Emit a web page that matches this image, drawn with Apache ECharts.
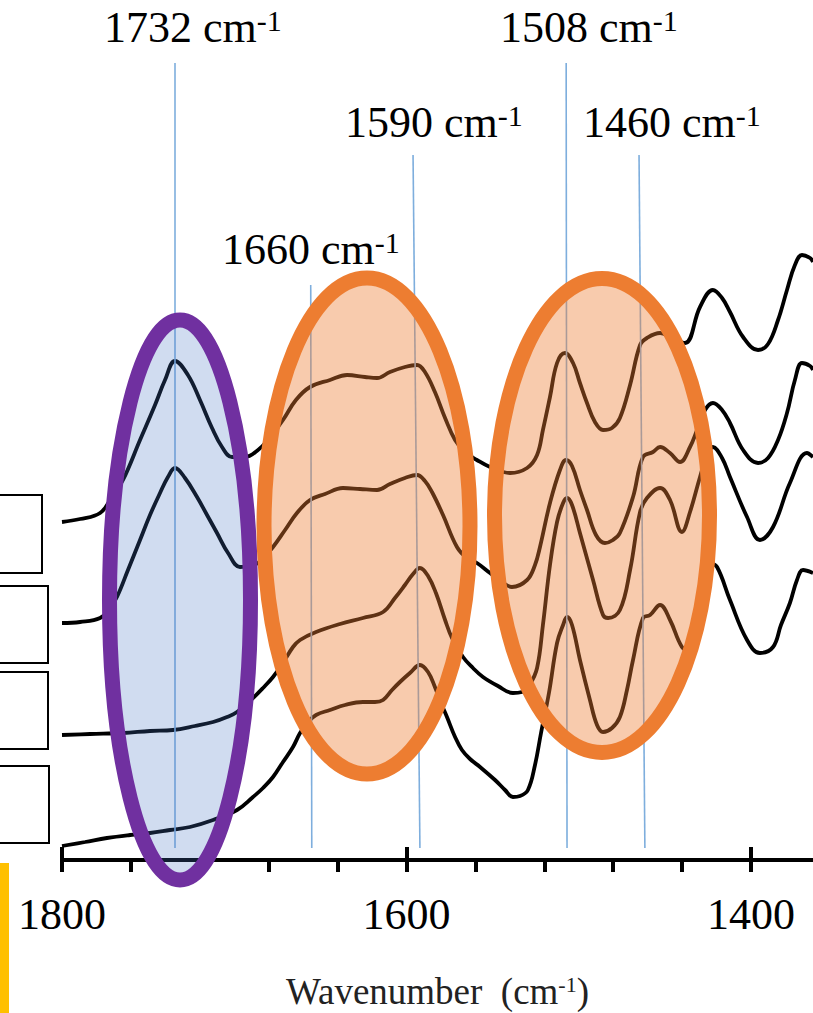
<!DOCTYPE html>
<html>
<head>
<meta charset="utf-8">
<title>FTIR spectra 1800-1364 cm-1</title>
<script src="https://cdn.jsdelivr.net/npm/echarts@6/dist/echarts.min.js"></script>
<style>
    html, body { margin: 0; padding: 0; background: #fff; }
    #ftir_spectra { width: 813px; height: 1013px; }
</style>
</head>
<body>
<div id="ftir_spectra"></div>
<script>

// Spectra: [wavenumber (cm-1), stacked absorbance (a.u.)]
var spectrumTop = [
    [1800, 3.38], [1789.5, 3.41], [1777.9, 3.47], [1771.0, 3.63], [1764.6, 3.80], [1754.7, 4.20],
    [1746.0, 4.55], [1740.2, 4.80], [1734.4, 4.99], [1726.9, 4.85], [1719.9, 4.60], [1712.9, 4.32],
    [1707.1, 4.13], [1701.3, 4.03], [1693.8, 4.03], [1686.2, 4.10], [1680.4, 4.20], [1671.7, 4.40],
    [1664.2, 4.60], [1656.0, 4.73], [1644.4, 4.80], [1634.5, 4.85], [1624.1, 4.83], [1617.1, 4.82],
    [1609.6, 4.88], [1600.9, 4.93], [1593.9, 4.95], [1589.3, 4.88], [1583.5, 4.68], [1577.6, 4.42],
    [1571.8, 4.20], [1566.0, 4.08], [1559.1, 4.00], [1551.5, 3.93], [1539.9, 3.87], [1530.0, 3.92],
    [1524.2, 4.05], [1520.8, 4.30], [1516.7, 4.63], [1512.6, 4.97], [1508.0, 5.07], [1503.3, 4.97],
    [1499.3, 4.77], [1495.2, 4.57], [1490.6, 4.38], [1485.9, 4.30], [1480.7, 4.32], [1476.1, 4.42],
    [1470.2, 4.75], [1464.4, 5.15], [1460.4, 5.22], [1452.8, 5.27], [1445.9, 5.22], [1438.3, 5.17],
    [1429.6, 5.53], [1422.1, 5.70], [1416.8, 5.62], [1412.2, 5.48], [1404.6, 5.23], [1395.9, 5.10],
    [1390.1, 5.16], [1384.3, 5.40], [1379.1, 5.70], [1374.5, 5.95], [1370.4, 6.05], [1365.7, 6.02],
    [1364.0, 5.98]
];

var spectrumUpper = [
    [1800, 2.37], [1789.5, 2.38], [1777.9, 2.42], [1772.1, 2.52], [1768.1, 2.63], [1761.7, 2.90],
    [1754.7, 3.20], [1748.9, 3.45], [1743.1, 3.67], [1738.5, 3.83], [1734.4, 3.92], [1728.6, 3.82],
    [1721.6, 3.63], [1715.8, 3.45], [1710.0, 3.27], [1703.6, 3.07], [1696.7, 2.93], [1690.9, 2.94],
    [1686.2, 2.97], [1681.6, 3.05], [1677.5, 3.13], [1670.5, 3.30], [1663.6, 3.47], [1656.0, 3.60],
    [1647.3, 3.66], [1636.9, 3.72], [1627.0, 3.71], [1617.1, 3.70], [1609.6, 3.76], [1600.9, 3.82],
    [1593.9, 3.85], [1589.3, 3.79], [1585.2, 3.68], [1578.8, 3.45], [1570.7, 3.13], [1564.9, 3.02],
    [1559.1, 2.97], [1551.5, 2.87], [1544.6, 2.78], [1538.8, 2.73], [1530.0, 2.80], [1525.4, 2.95],
    [1522.5, 3.13], [1516.7, 3.57], [1510.9, 3.90], [1507.4, 4.00], [1503.9, 3.94], [1499.3, 3.70],
    [1495.2, 3.50], [1490.0, 3.25], [1484.8, 3.17], [1480.1, 3.20], [1476.1, 3.27], [1468.5, 3.63],
    [1462.7, 4.03], [1456.9, 4.08], [1452.8, 4.13], [1447.0, 4.07], [1441.2, 3.98], [1435.4, 4.13],
    [1431.3, 4.30], [1426.7, 4.50], [1422.1, 4.57], [1416.8, 4.50], [1412.2, 4.37], [1404.6, 4.10],
    [1395.9, 3.97], [1390.1, 4.02], [1384.3, 4.20], [1379.1, 4.47], [1374.5, 4.80], [1370.4, 4.97],
    [1365.7, 4.94], [1364.0, 4.90]
];

var spectrumLower = [
    [1800, 1.25], [1783.7, 1.26], [1764.6, 1.27], [1748.9, 1.29], [1735.6, 1.30], [1722.8, 1.34],
    [1712.3, 1.38], [1704.2, 1.43], [1698.4, 1.48], [1689.1, 1.62], [1683.3, 1.72], [1677.5, 1.83],
    [1671.7, 1.97], [1665.9, 2.13], [1661.8, 2.20], [1652.5, 2.28], [1638.6, 2.36], [1625.3, 2.42],
    [1613.6, 2.48], [1606.7, 2.62], [1600.9, 2.75], [1596.2, 2.86], [1592.2, 2.92], [1587.5, 2.84],
    [1582.9, 2.67], [1577.6, 2.40], [1573.6, 2.22], [1567.2, 2.03], [1561.4, 1.92], [1555.6, 1.83],
    [1546.9, 1.74], [1538.2, 1.67], [1533.0, 1.68], [1528.3, 1.76], [1524.2, 1.92], [1520.8, 2.35],
    [1516.7, 2.95], [1512.6, 3.38], [1509.1, 3.57], [1506.8, 3.62], [1503.9, 3.55], [1499.3, 3.27],
    [1491.7, 2.80], [1485.9, 2.45], [1483.0, 2.42], [1476.1, 2.50], [1470.2, 2.90], [1464.4, 3.48],
    [1460.4, 3.62], [1452.8, 3.72], [1447.0, 3.60], [1440.1, 3.28], [1435.4, 3.48], [1429.6, 3.83],
    [1425.5, 4.05], [1422.1, 4.13], [1416.8, 4.02], [1412.2, 3.83], [1402.3, 3.43], [1394.8, 3.20],
    [1387.2, 3.33], [1377.4, 3.77], [1367.5, 4.07], [1364.0, 4.03]
];

var spectrumBottom = [
    [1800, 0.14], [1786.6, 0.18], [1773.9, 0.22], [1760.5, 0.25], [1748.9, 0.27], [1737.3, 0.30],
    [1725.7, 0.33], [1712.3, 0.40], [1698.4, 0.50], [1689.1, 0.63], [1683.3, 0.72], [1677.5, 0.83],
    [1671.7, 0.98], [1665.9, 1.13], [1661.8, 1.27], [1657.2, 1.38], [1652.5, 1.45], [1644.4, 1.50],
    [1635.7, 1.55], [1625.3, 1.58], [1618.3, 1.58], [1613.6, 1.60], [1608.4, 1.70], [1603.8, 1.78],
    [1598.0, 1.87], [1592.2, 1.95], [1587.5, 1.88], [1583.5, 1.73], [1580.0, 1.57], [1576.5, 1.43],
    [1571.8, 1.23], [1567.8, 1.10], [1563.1, 1.01], [1557.3, 0.93], [1548.6, 0.80], [1542.8, 0.70],
    [1538.2, 0.63], [1534.1, 0.64], [1529.5, 0.70], [1525.4, 0.95], [1521.9, 1.27], [1517.3, 1.67],
    [1512.6, 2.17], [1509.1, 2.35], [1506.8, 2.43], [1503.9, 2.35], [1499.3, 2.00], [1493.5, 1.60],
    [1489.4, 1.35], [1485.9, 1.28], [1480.7, 1.32], [1476.1, 1.43], [1472.0, 1.70], [1468.5, 2.00],
    [1462.7, 2.42], [1458.6, 2.45], [1452.8, 2.55], [1447.0, 2.40], [1440.1, 2.13], [1435.4, 2.08],
    [1431.3, 2.35], [1427.3, 2.75], [1423.8, 2.97], [1419.7, 2.93], [1412.2, 2.60], [1402.3, 2.20],
    [1394.8, 2.07], [1387.2, 2.13], [1382.6, 2.35], [1377.4, 2.57], [1373.3, 2.80], [1369.8, 2.90],
    [1364.0, 2.87]
];

// Axis ticks and labels
var tickValues = [1800, 1760, 1720, 1680, 1640, 1600, 1560, 1520, 1480, 1440, 1400];
var labelValues = [1800, 1600, 1400];

// Assigned bands (label text) and where their guide lines sit
var peakNames = ['1732', '1660', '1590', '1508', '1460'];
var peakWnTop = [1734.4, 1655.6, 1596.2, 1507.3, 1465.0];
var peakWnBottom = [1734.4, 1655.0, 1592.2, 1506.8, 1461.6];
var peakTop = [7.97, 5.75, 7.05, 7.97, 7.05];
var peakBottom = 0.12;


var chartElement = document.getElementById('ftir_spectra');
var ftirChart = echarts.init(chartElement, null, { renderer: 'svg' });

var serifFont = 'Liberation Serif';

// Peak label text: "1732 cm" + superscript "-1"
var peakRich = {
    n: { fontFamily: serifFont, fontSize: 44, lineHeight: 44, fill: '#000' },
    s: { fontFamily: serifFont, fontSize: 30, lineHeight: 30, fill: '#000', verticalAlign: 'top' }
};
var peakLabelAt = {
    '1732': [104, 27.5],
    '1508': [500, 27.5],
    '1590': [345, 122],
    '1460': [583, 122],
    '1660': [222, 249.5]
};

var spectra = [spectrumTop, spectrumUpper, spectrumLower, spectrumBottom];

var series = spectra.map(function (d) {
    return {
        type: 'line',
        data: d,
        smooth: 0.4,
        showSymbol: false,
        silent: true,
        lineStyle: { color: '#000', width: 3.8 },
        z: 3
    };
});

// Guide lines at the band positions
series.push({
    type: 'line',
    data: [],
    silent: true,
    z: 2,
    markLine: {
        silent: true,
        symbol: ['none', 'none'],
        label: { show: false },
        lineStyle: { color: '#7EAEDD', width: 1.6, type: 'solid' },
        data: peakNames.map(function (n, i) {
            return [
                { coord: [peakWnBottom[i], peakBottom] },
                { coord: [peakWnTop[i], peakTop[i]] }
            ];
        })
    }
});

var graphics = [
    // highlight ellipses
    {
        type: 'ellipse', z: 10,
        shape: { cx: 180, cy: 600, rx: 70.5, ry: 280 },
        style: { fill: 'rgba(68,114,196,0.25)', stroke: '#7030A0', lineWidth: 15 }
    },
    {
        type: 'ellipse', z: 10,
        shape: { cx: 367, cy: 526, rx: 103, ry: 248 },
        style: { fill: 'rgba(237,125,49,0.4)', stroke: '#ED7D31', lineWidth: 15 }
    },
    {
        type: 'ellipse', z: 10,
        shape: { cx: 602, cy: 515.5, rx: 107.5, ry: 237 },
        style: { fill: 'rgba(237,125,49,0.4)', stroke: '#ED7D31', lineWidth: 15 }
    },
    // cut-off legend boxes on the left
    { type: 'rect', z: 10, shape: { x: -20, y: 495, width: 62, height: 78 }, style: { fill: '#fff', stroke: '#000', lineWidth: 2 } },
    { type: 'rect', z: 10, shape: { x: -20, y: 586, width: 68, height: 77 }, style: { fill: '#fff', stroke: '#000', lineWidth: 2 } },
    { type: 'rect', z: 10, shape: { x: -20, y: 672, width: 68, height: 77 }, style: { fill: '#fff', stroke: '#000', lineWidth: 2 } },
    { type: 'rect', z: 10, shape: { x: -20, y: 766, width: 69, height: 77 }, style: { fill: '#fff', stroke: '#000', lineWidth: 2 } },
    // yellow strip at bottom left
    { type: 'rect', z: 10, shape: { x: 0, y: 863, width: 9, height: 150 }, style: { fill: '#FFC000' } }
];

peakNames.forEach(function (n) {
    var p = peakLabelAt[n];
    graphics.push({
        type: 'text', z: 20,
        x: p[0], y: p[1],
        style: {
            text: '{n|' + n + ' cm}{s|-1}',
            rich: peakRich,
            align: 'left',
            verticalAlign: 'middle'
        }
    });
});

var plainLabel = function (v) { return '' + v; };

ftirChart.setOption({
    animation: false,

    grid: {
        left: 62,
        right: 0,
        top: 0,
        bottom: 153,
        containLabel: false,
        outerBoundsMode: 'none'
    },

    xAxis: [
        {
            type: 'value',
            min: 1364,
            max: 1800,
            inverse: true,
            position: 'bottom',
            name: '{n|Wavenumber\u00a0 (cm}{s|-1}{n|)}',
            nameLocation: 'middle',
            nameGap: 113,
            nameMoveOverlap: false,
            nameTextStyle: {
                rich: {
                    n: { fontFamily: serifFont, fontSize: 37, lineHeight: 37, color: '#222' },
                    s: { fontFamily: serifFont, fontSize: 22, lineHeight: 22, color: '#222', verticalAlign: 'top' }
                }
            },
            axisLine: { onZero: false, lineStyle: { color: '#000', width: 4 } },
            axisTick: {
                show: true,
                customValues: tickValues,
                length: 12,
                lineStyle: { color: '#000', width: 4 }
            },
            axisLabel: {
                customValues: labelValues,
                formatter: plainLabel,
                margin: 32,
                color: '#000',
                fontFamily: serifFont,
                fontSize: 44
            },
            splitLine: { show: false }
        },
        {
            // upper half of the major ticks
            type: 'value',
            min: 1364,
            max: 1800,
            inverse: true,
            position: 'bottom',
            axisLine: { show: false },
            axisTick: {
                show: true,
                inside: true,
                customValues: labelValues,
                length: 13,
                lineStyle: { color: '#000', width: 4 }
            },
            axisLabel: { show: false },
            splitLine: { show: false }
        }
    ],

    yAxis: {
        type: 'value',
        min: 0,
        max: 8.6,
        show: false,
        splitLine: { show: false }
    },

    series: series,
    graphic: { elements: graphics }
});

</script>
</body>
</html>
